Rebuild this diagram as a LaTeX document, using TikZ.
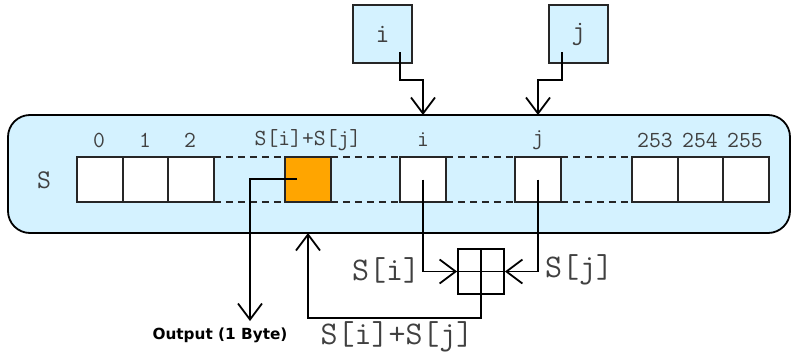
\documentclass[tikz,border=0pt]{standalone}
\usepackage{fontspec}
\newfontfamily\outfont{DejaVu Sans}
\usetikzlibrary{arrows.meta}
\definecolor{lblue}{RGB}{212,242,255}
\definecolor{orng}{RGB}{255,165,0}
\tikzset{
  cell/.style={draw=black!85, line width=1.8pt, fill=white, minimum width=45.5pt, minimum height=45pt, inner sep=0pt, outer sep=0pt},
  idxbox/.style={draw=black!85, line width=1.8pt, fill=lblue, minimum width=59pt, minimum height=58pt, inner sep=0pt, font=\ttfamily\fontsize{27}{27}\selectfont, text=black!75},
  lbl/.style={font=\ttfamily\fontsize{23}{23}\selectfont, text=black!75, inner sep=0pt},
  bottomlbl/.style={font=\ttfamily\fontsize{33}{33}\selectfont, text=black!75, inner sep=0pt},
  conn/.style={line width=1.8pt, draw=black},
  arr/.style={conn, -{Straight Barb[length=16pt,width=24pt,line width=1.8pt]}},
  dashlink/.style={line width=1.8pt, dash pattern=on 7pt off 5pt, draw=black!85},
}
\begin{document}
\begin{tikzpicture}[x=1pt,y=-1pt]
\useasboundingbox (0,0) rectangle (791,351);
% state array
\node[draw=black, line width=1.8pt, fill=lblue, rounded corners=22pt, minimum width=782pt, minimum height=118pt, inner sep=0pt] (state) at (399,174) {};
\node[font=\ttfamily\fontsize{27}{27}\selectfont, text=black!75, inner sep=0pt] (slbl) at (44,180) {S};
% cells
\node[cell] (c0) at (100,179.5) {};
\node[cell] (c1) at (145.5,179.5) {};
\node[cell] (c2) at (191,179.5) {};
\node[cell, fill=orng] (co) at (308,179.5) {};
\node[cell] (ci) at (423,179.5) {};
\node[cell] (cj) at (538,179.5) {};
\node[cell] (c253) at (655,179.5) {};
\node[cell] (c254) at (700.5,179.5) {};
\node[cell] (c255) at (746,179.5) {};
% dashed links
\foreach \a/\b in {c2/co, co/ci, ci/cj, cj/c253}{
  \draw[dashlink] (\a.north east) -- (\b.north west);
  \draw[dashlink] (\a.south east) -- (\b.south west);
}
% index labels
\node[lbl] (l0) at (99,140) {0};
\node[lbl] (l1) at (145,140) {1};
\node[lbl] (l2) at (190,140) {2};
\node[lbl] (lo) at (308,140) {S[i]+S[j]};
\node[lbl] (li) at (423,140) {i};
\node[lbl] (lj) at (538,140) {j};
\node[lbl] (l253) at (655,140) {253};
\node[lbl] (l254) at (700,140) {254};
\node[lbl] (l255) at (745,140) {255};
% index registers
\node[idxbox] (bi) at (382.5,34) {i};
\node[idxbox] (bj) at (578.5,34) {j};
\coordinate (ti) at (423,115);
\coordinate (tj) at (538,115);
\draw[arr] (400,52) -- (400,80) -- (423,80) -- (ti);
\draw[arr] (562,52) -- (562,80) -- (538,80) -- (tj);
% adder
\node[draw=black, line width=1.8pt, minimum width=46pt, minimum height=45pt, inner sep=0pt] (add) at (481,271.5) {};
\draw[conn] (add.north) -- (add.south);
\draw[conn] (add.west) -- (add.east);
\draw[arr] (ci.center) -- (423,271.5) -- (add.west);
\draw[arr] (cj.center) -- (538,271.5) -- (add.east);
\coordinate (tsum) at (308,233);
\draw[arr] (add.south) -- (481,318) -- (308,318) -- (tsum);
\node[bottomlbl] (si) at (386,270) {S[i]};
\node[bottomlbl] (sj) at (579,270) {S[j]};
\node[bottomlbl] (ssum) at (397,337) {S[i]+S[j]};
% output
\coordinate (outp) at (250,321);
\draw[arr] (297,179) -- (250,179) -- (outp);
\node[font=\outfont\bfseries\fontsize{15.3}{15.3}\selectfont, inner sep=0pt] (otxt) at (220,335) {Output (1 Byte)};
\end{tikzpicture}
\end{document}
